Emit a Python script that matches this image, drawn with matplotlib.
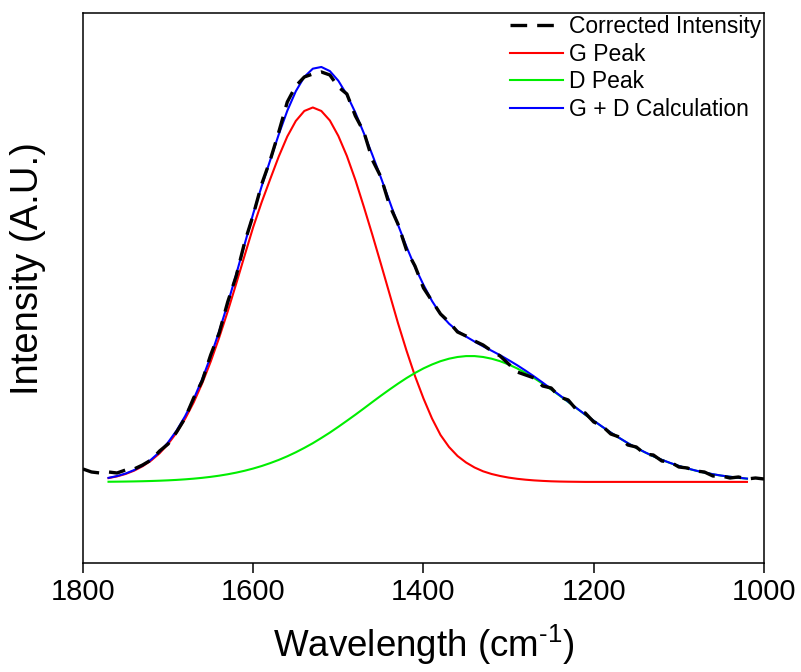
import numpy as np
import matplotlib
matplotlib.use("Agg")
import matplotlib.pyplot as plt

# font mirip Arial
plt.rcParams['font.family'] = ['Liberation Sans', 'DejaVu Sans']
plt.rcParams['mathtext.default'] = 'regular'

# data spektrum terkoreksi (cm-1, intensitas A.U.)
wave_raw = [1800, 1790, 1780, 1770, 1760, 1750, 1740, 1730, 1720, 1710,
            1700, 1690, 1680, 1670, 1660, 1650, 1640, 1630, 1620, 1610,
            1600, 1590, 1580, 1570, 1560, 1550, 1540, 1530, 1520, 1510,
            1500, 1490, 1480, 1470, 1460, 1450, 1440, 1430, 1420, 1410,
            1400, 1390, 1380, 1370, 1360, 1350, 1340, 1330, 1320, 1310,
            1300, 1290, 1280, 1270, 1260, 1250, 1240, 1230, 1220, 1210,
            1200, 1190, 1180, 1170, 1160, 1150, 1140, 1130, 1120, 1110,
            1100, 1090, 1080, 1070, 1060, 1050, 1040, 1030, 1020, 1010,
            1000]
corrected = [13, 10, 9, 10, 9, 12, 13, 17, 22, 31,
             38, 50, 64, 84, 101, 127, 149, 180, 206, 240,
             267, 298, 322, 350, 380, 396, 405, 408, 410, 407,
             395, 388, 366, 350, 322, 305, 277, 258, 232, 216,
             194, 181, 168, 160, 150, 146, 141, 137, 131, 126,
             118, 110, 107, 104, 96, 94, 85, 82, 72, 69,
             60, 56, 48, 45, 37, 35, 28, 27, 21, 20,
             15, 14, 11, 10, 6, 6, 4, 5, 3, 4,
             3]

# hasil fitting puncak G dan D
wave_fit = [1770, 1760, 1750, 1740, 1730, 1720, 1710, 1700, 1690, 1680,
            1670, 1660, 1650, 1640, 1630, 1620, 1610, 1600, 1590, 1580,
            1570, 1560, 1550, 1540, 1530, 1520, 1510, 1500, 1490, 1480,
            1470, 1460, 1450, 1440, 1430, 1420, 1410, 1400, 1390, 1380,
            1370, 1360, 1350, 1340, 1330, 1320, 1310, 1300, 1290, 1280,
            1270, 1260, 1250, 1240, 1230, 1220, 1210, 1200, 1190, 1180,
            1170, 1160, 1150, 1140, 1130, 1120, 1110, 1100, 1090, 1080,
            1070, 1060, 1050, 1040, 1030, 1020]
g_peak = [3.9, 5.6, 8.0, 11.3, 15.7, 21.4, 28.7, 38.0, 49.4, 63.2,
          79.5, 98.6, 120.3, 144.4, 170.5, 198.3, 226.8, 255.0, 280.0, 303.0,
          325.5, 345.5, 361.0, 371.0, 374.5, 371.0, 361.5, 346.0, 326.0, 302.0,
          275.0, 247.0, 218.0, 188.5, 159.0, 131.5, 106.0, 83.5, 63.5, 47.0,
          35.0, 26.0, 19.5, 14.5, 10.7, 8.0, 6.0, 4.4, 3.2, 2.3,
          1.6, 1.1, 0.7, 0.45, 0.3, 0.2, 0.1, 0.1, 0.1, 0.1,
          0.1, 0.1, 0.1, 0.1, 0.1, 0.1, 0.1, 0.1, 0.1, 0.1,
          0.1, 0.1, 0.1, 0.1, 0.1, 0.1]
d_peak = [0.25, 0.34, 0.45, 0.59, 0.77, 1.0, 1.29, 1.65, 2.1, 2.66,
          3.34, 4.16, 5.15, 6.32, 7.72, 9.36, 11.27, 13.48, 16.0, 18.9,
          22.1, 25.7, 29.7, 34.1, 38.8, 44.0, 49.4, 55.2, 61.2, 67.3,
          73.6, 80.0, 86.3, 92.4, 98.3, 103.9, 109.0, 113.6, 117.5, 120.8,
          123.3, 125.0, 125.9, 125.9, 125.0, 123.3, 120.8, 117.5, 113.6, 109.0,
          103.9, 98.3, 92.4, 86.3, 80.0, 73.6, 67.3, 61.2, 55.2, 49.4,
          44.0, 38.8, 34.1, 29.7, 25.7, 22.1, 18.9, 16.0, 13.5, 11.3,
          9.4, 7.7, 6.3, 5.2, 4.2, 3.3]

# kurva G + D
gd_sum = np.array(g_peak) + np.array(d_peak)

fig = plt.figure(figsize=(8.01, 6.72), dpi=100)
ax = fig.add_axes([0.1036, 0.1622, 0.8502, 0.8185])

ax.plot(wave_raw, corrected, color='black', lw=2.4, linestyle=(0, (5, 3)),
        label='Corrected Intensity', zorder=5)
ax.plot(wave_fit, g_peak, color='#ff0000', lw=1.5, label='G Peak', zorder=3)
ax.plot(wave_fit, d_peak, color='#00ee00', lw=1.5, label='D Peak', zorder=3)
ax.plot(wave_fit, gd_sum, color='#0000ff', lw=1.5, label='G + D Calculation', zorder=4)

ax.set_xlim(1800, 1000)
ax.set_ylim(-81, 469)
ax.set_xticks([1800, 1600, 1400, 1200, 1000])
ax.set_yticks([])
ax.tick_params(axis='x', direction='out', length=7, width=1.1, labelsize=21, pad=4)
for sp in ax.spines.values():
    sp.set_linewidth(1.1)

ax.set_xlabel('Wavelength (cm$^{\u20101}$)', fontsize=26.5, labelpad=12)
ax.set_ylabel('Intensity (A.U.)', fontsize=27.5)
ax.yaxis.set_label_coords(-0.055, 0.536)

ax.legend(loc='upper right', bbox_to_anchor=(1.0, 1.0), frameon=False,
          fontsize=16.5, borderaxespad=0, borderpad=0.1, handlelength=2.3,
          handletextpad=0.3, labelspacing=0.2)

fig.savefig('out.png', dpi=100)
